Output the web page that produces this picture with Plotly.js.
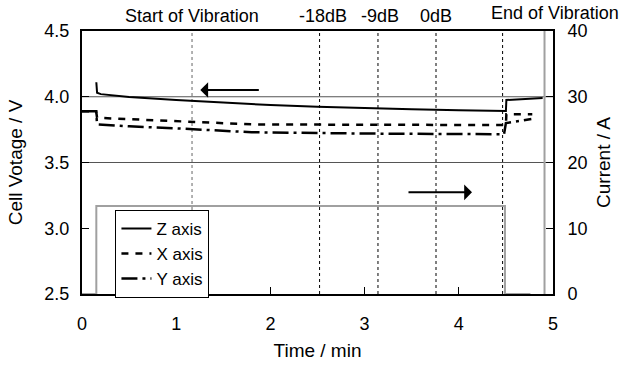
<!DOCTYPE html>
<html>
<head>
<meta charset="utf-8">
<script src="https://cdn.plot.ly/plotly-3.0.1.min.js"></script>
<style>html,body{margin:0;padding:0;background:#fff;}#chart{width:619px;height:378px;}</style>
</head>
<body>
<div id="chart"></div>
<script>
// Cell voltage traces (time in min, voltage in V)
const zTime = [0.152, 0.16, 0.2, 0.5, 1.0, 1.5, 2.0, 2.5, 3.0, 3.5, 4.0, 4.5, 4.505, 4.6, 4.89];
const zVolt = [4.11, 4.03, 4.02, 3.998, 3.975, 3.955, 3.937, 3.924, 3.913, 3.904, 3.897, 3.892, 3.975, 3.98, 3.99];
const xTime = [0, 0.15, 0.16, 0.5, 1.0, 1.8, 3.0, 4.5, 4.505, 4.78];
const xVolt = [3.89, 3.89, 3.84, 3.83, 3.815, 3.79, 3.787, 3.785, 3.867, 3.867];
const yTime = [0, 0.15, 0.16, 0.5, 1.0, 1.8, 3.0, 4.48, 4.5, 4.77];
const yVolt = [3.89, 3.89, 3.79, 3.775, 3.76, 3.73, 3.72, 3.715, 3.80, 3.83];
// Current (A)
const iTime = [0, 0.152, 0.152, 4.49, 4.49, 4.76, null, 4.91, 4.91];
const iCurr = [0, 0, 13.4, 13.4, 0, 0, null, 0, 45];
// Vibration stage markers
const stageTimes = [1.168, 2.522, 3.142, 3.758, 4.465];
const stageLabels = ["Start of Vibration", "-18dB", "-9dB", "0dB", "End of Vibration"];
const stageLabelShift = [0, 3, 2, 0, 52];
const stageLabelRaise = [15, 15, 15, 15, 18];
// Gridline levels
const gridLevels = [4.0, 3.5];

const FONT = "Arial, 'Liberation Sans', sans-serif";

const traces = [
  {x: iTime, y: iCurr, yaxis: 'y2', mode: 'lines', line: {color: '#a0a0a0', width: 2}, showlegend: false, connectgaps: false, hoverinfo: 'skip'},
  {x: zTime, y: zVolt, mode: 'lines', name: 'Z axis', line: {color: '#000', width: 2}},
  {x: xTime, y: xVolt, mode: 'lines', name: 'X axis', line: {color: '#000', width: 2.5, dash: '7px,7px'}},
  {x: yTime, y: yVolt, mode: 'lines', name: 'Y axis', line: {color: '#000', width: 2.5, dash: '16px,5px,3px,5px'}}
];

const shapes = [];
gridLevels.forEach(v => shapes.push({type: 'line', xref: 'paper', yref: 'y', x0: 0, x1: 1, y0: v, y1: v, line: {color: '#555', width: 1}, layer: 'below'}));
stageTimes.forEach((t, i) => shapes.push({type: 'line', xref: 'x', yref: 'paper', x0: t, x1: t, y0: 0, y1: 1, line: {color: i === 0 ? '#666' : '#000', width: 1, dash: '3px,3px'}, layer: 'below'}));

const annotations = stageLabels.map((s, i) => ({
  text: s, x: stageTimes[i], xref: 'x', xshift: stageLabelShift[i], y: 1, yref: 'paper', yshift: stageLabelRaise[i], yanchor: 'middle', xanchor: 'center',
  showarrow: false, font: {family: FONT, size: 18, color: '#000'}
}));
annotations.push({x: 1.256, y: 4.051, ax: 1.893, ay: 4.051, xref: 'x', yref: 'y', axref: 'x', ayref: 'y', text: '', showarrow: true, arrowhead: 1, arrowsize: 1.3, arrowwidth: 2, arrowcolor: '#000'});
annotations.push({x: 4.14, y: 3.273, ax: 3.45, ay: 3.273, xref: 'x', yref: 'y', axref: 'x', ayref: 'y', text: '', showarrow: true, arrowhead: 1, arrowsize: 1.3, arrowwidth: 2, arrowcolor: '#000'});

const layout = {
  width: 619, height: 378,
  margin: {l: 82, r: 66, t: 31, b: 84, pad: 0},
  paper_bgcolor: '#fff', plot_bgcolor: '#fff',
  font: {family: FONT, size: 18, color: '#000'},
  showlegend: true,
  legend: {x: 0.071, y: 0.32, xanchor: 'left', yanchor: 'top', bgcolor: '#fff', bordercolor: '#000', borderwidth: 1, font: {family: FONT, size: 17, color: '#000'}, tracegroupgap: 0},
  xaxis: {range: [0, 5], dtick: 1, tick0: 0, ticks: 'inside', ticklen: 7, tickwidth: 1, tickcolor: '#000', showline: true, linecolor: '#000', linewidth: 2, mirror: true, showgrid: false, zeroline: false, ticklabelstandoff: 12,
    tickfont: {family: FONT, size: 18},
    title: {text: 'Time / min', font: {family: FONT, size: 19}, standoff: 11}},
  yaxis: {range: [2.5, 4.5], dtick: 0.5, tick0: 2.5, tickformat: '.1f', ticks: 'inside', ticklen: 7, tickwidth: 1, tickcolor: '#000', showline: true, linecolor: '#000', linewidth: 2, showgrid: false, zeroline: false, ticklabelstandoff: 7,
    tickfont: {family: FONT, size: 18},
    title: {text: 'Cell Votage / V', font: {family: FONT, size: 19}, standoff: 17}},
  yaxis2: {overlaying: 'y', side: 'right', range: [0, 40], dtick: 10, tick0: 0, ticks: 'inside', ticklen: 7, tickwidth: 1, tickcolor: '#000', showline: true, linecolor: '#000', linewidth: 2, showgrid: false, zeroline: false, ticklabelstandoff: 9,
    tickfont: {family: FONT, size: 18},
    title: {text: 'Current / A', font: {family: FONT, size: 19}, standoff: 10}},
  shapes: shapes,
  annotations: annotations
};

Plotly.newPlot('chart', traces, layout, {staticPlot: true, displayModeBar: false});
</script>
</body>
</html>
